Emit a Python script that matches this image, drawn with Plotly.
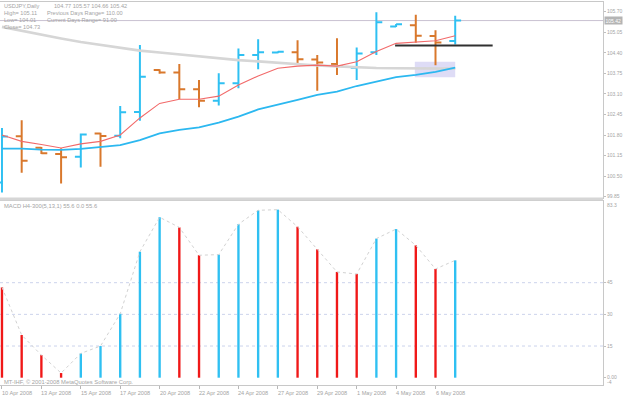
import plotly.graph_objects as go

# ---------------- data ----------------
dates = ["10 Apr 2008", "11 Apr 2008", "13 Apr 2008", "14 Apr 2008", "15 Apr 2008",
         "16 Apr 2008", "17 Apr 2008", "18 Apr 2008", "20 Apr 2008", "21 Apr 2008",
         "22 Apr 2008", "23 Apr 2008", "24 Apr 2008", "25 Apr 2008", "27 Apr 2008",
         "28 Apr 2008", "29 Apr 2008", "30 Apr 2008", "1 May 2008", "2 May 2008",
         "4 May 2008", "5 May 2008", "6 May 2008", "7 May 2008"]

opens = [100.30, 101.76, 101.40, 101.20, 101.11, 101.85, 101.78, 102.53, 103.86, 103.78,
         103.25, 102.88, 103.44, 104.33, 104.41, 104.42, 104.19, 104.05, 103.93, 104.42,
         105.23, 105.27, 104.93, 104.77]
highs = [102.02, 102.27, 101.42, 101.38, 101.85, 101.87, 102.72, 104.65, 103.88, 104.05,
         103.54, 103.75, 104.54, 104.83, 104.45, 104.80, 104.33, 104.86, 104.57, 105.68,
         105.31, 105.60, 105.11, 105.57]
lows = [99.98, 100.61, 101.20, 100.27, 100.77, 100.80, 101.70, 102.25, 103.74, 102.93,
        102.68, 102.73, 103.28, 103.88, 104.39, 104.05, 103.20, 103.70, 103.54, 104.33,
        105.22, 104.72, 104.01, 104.66]
closes = [101.75, 100.99, 101.22, 101.10, 101.82, 101.77, 102.52, 103.64, 103.78, 103.25,
          102.88, 103.44, 104.33, 104.42, 104.43, 104.20, 104.09, 103.98, 104.38, 105.37,
          105.30, 104.94, 104.73, 105.42]

ma_slow = [105.22, 105.09, 104.96, 104.85, 104.74, 104.65, 104.55, 104.47, 104.41, 104.35,
           104.28, 104.22, 104.17, 104.13, 104.08, 104.03, 104.00, 103.97, 103.94, 103.92,
           103.91, 103.90, 103.90, 103.90]
ma_mid = [101.37, 101.37, 101.34, 101.33, 101.36, 101.42, 101.48, 101.64, 101.85, 101.96,
          102.04, 102.19, 102.38, 102.61, 102.75, 102.91, 103.07, 103.17, 103.35, 103.49,
          103.63, 103.70, 103.80, 103.93]
ma_fast = [101.80, 101.60, 101.50, 101.39, 101.52, 101.60, 101.80, 102.34, 102.80, 102.93,
           102.93, 103.03, 103.38, 103.67, 103.91, 103.98, 104.01, 103.98, 104.12, 104.44,
           104.70, 104.74, 104.78, 104.94]

macd = [42.8, 20.2, 10.7, 2.2, 11.5, 15.0, 30.3, 59.7, 76.0, 71.2,
        58.0, 58.3, 72.7, 79.3, 79.6, 71.5, 60.8, 50.1, 49.1, 65.9,
        70.4, 62.7, 51.5, 55.6]
signal = macd[:]  # signal period 1

macd_levels = [15, 30, 45]
price_ticks = [99.85, 100.50, 101.15, 101.80, 102.45, 103.10, 103.75, 104.40, 105.05, 105.70]
macd_ticks = [0, 15, 30, 45]
macd_tick_text = ["0.00", "15", "30", "45"]

support_level = 104.63
support_from = "4 May 2008"
zone_low, zone_high = 103.63, 104.12
zone_from, zone_to = "5 May 2008", "7 May 2008"

header_left = ["USDJPY,Daily", "High= 105.11", "Low= 104.01", "Close= 104.73"]
header_right = ["104.77 105.57 104.66 105.42", "Previous Days Range= 110.00",
                "Current Days Range= 91.00", ""]
macd_title = "MACD H4-300(5,13,1) 55.6 0.0 55.6"
copyright_txt = "MT-IHF, © 2001-2008 MetaQuotes Software Corp."

# ---------------- layout helpers ----------------
W, H = 625, 397
def px_y(p):
    return 1 - p / H
def px_x(p):
    return p / W

GRAY_TXT = "#a4a4a4"
BORDER = "#c8c8c8"
BLUE = "#2fc0f2"
ORANGE = "#d9782c"
RED = "#f01818"

fig = go.Figure()

# moving averages
fig.add_trace(go.Scatter(x=dates, y=ma_slow, mode="lines", line=dict(color="#d6d6d6", width=2.6),
                         xaxis="x", yaxis="y", hoverinfo="skip"))
fig.add_trace(go.Scatter(x=dates, y=ma_mid, mode="lines", line=dict(color="#2cb8f0", width=1.8),
                         xaxis="x", yaxis="y", hoverinfo="skip"))
fig.add_trace(go.Scatter(x=dates, y=ma_fast, mode="lines", line=dict(color="#f26a6a", width=1.1),
                         xaxis="x", yaxis="y", hoverinfo="skip"))

# price bars
fig.add_trace(go.Ohlc(x=dates, open=opens, high=highs, low=lows, close=closes,
                      increasing=dict(line=dict(color=BLUE, width=2)),
                      decreasing=dict(line=dict(color=ORANGE, width=2)),
                      tickwidth=0.3, xaxis="x", yaxis="y"))

# MACD histogram
bar_colors = [RED] + [BLUE if macd[i] > macd[i - 1] else RED for i in range(1, len(macd))]
fig.add_trace(go.Bar(x=dates, y=macd, width=0.12, marker=dict(color=bar_colors, line=dict(width=0)),
                     xaxis="x2", yaxis="y2"))
fig.add_trace(go.Scatter(x=dates, y=signal, mode="lines",
                         line=dict(color="#d2d2d2", width=1, dash="dot"),
                         xaxis="x2", yaxis="y2", hoverinfo="skip"))

shapes = []
# zone rectangle
shapes.append(dict(type="rect", xref="x", yref="y",
                   x0=dates.index(zone_from) - 0.05, x1=dates.index(zone_to),
                   y0=zone_low, y1=zone_high, fillcolor="#dedcf6", line=dict(width=0),
                   layer="below"))
# current price line
shapes.append(dict(type="line", xref="x domain", yref="y", x0=0, x1=1,
                   y0=closes[-1], y1=closes[-1], line=dict(color="#c9c2d2", width=1),
                   layer="below"))
# support line
shapes.append(dict(type="line", xref="x", yref="y",
                   x0=dates.index(support_from) - 0.05, x1=len(dates) - 1 + 1.9,
                   y0=support_level, y1=support_level, line=dict(color="#303030", width=2)))
# MACD levels
for lv in macd_levels:
    shapes.append(dict(type="line", xref="x2 domain", yref="y2", x0=0, x1=1, y0=lv, y1=lv,
                       line=dict(color="#ccd3ec", width=1, dash="dot"), layer="below"))
# separator band
shapes.append(dict(type="rect", xref="paper", yref="paper", x0=0, x1=px_x(603),
                   y0=px_y(200.5), y1=px_y(197.5), fillcolor="#d6d6d6", line=dict(width=0)))

annotations = []
head_y = [6, 12.8, 19.6, 26.6]
for i, t in enumerate(header_left):
    annotations.append(dict(text=t, xref="paper", yref="paper", x=px_x(2), y=px_y(head_y[i]),
                            xanchor="left", yanchor="middle", showarrow=False,
                            font=dict(size=5.6, color=GRAY_TXT, family="Liberation Sans")))
for i, t in enumerate(header_right):
    if not t:
        continue
    xx = 52 if i == 0 else 45
    annotations.append(dict(text=t, xref="paper", yref="paper", x=px_x(xx), y=px_y(head_y[i]),
                            xanchor="left", yanchor="middle", showarrow=False,
                            font=dict(size=5.6, color=GRAY_TXT, family="Liberation Sans")))
annotations.append(dict(text=macd_title, xref="paper", yref="paper", x=px_x(2), y=px_y(205.5),
                        xanchor="left", yanchor="middle", showarrow=False,
                        font=dict(size=5.8, color=GRAY_TXT, family="Liberation Sans")))
annotations.append(dict(text=copyright_txt, xref="paper", yref="paper", x=px_x(2), y=px_y(381.5),
                        xanchor="left", yanchor="middle", showarrow=False,
                        font=dict(size=5.8, color=GRAY_TXT, family="Liberation Sans")))
# x labels (left aligned at the tick)
for d in dates[::2]:
    annotations.append(dict(text=d, xref="x2", yref="paper", x=d, y=px_y(392.5),
                            xanchor="left", yanchor="middle", showarrow=False, xshift=-2,
                            font=dict(size=5.6, color=GRAY_TXT, family="Liberation Sans")))
# current price badge
annotations.append(dict(text="%.2f" % closes[-1], xref="paper", yref="y", x=px_x(604), y=closes[-1],
                        xanchor="left", yanchor="middle", showarrow=False, bgcolor="#b4b4b4",
                        borderpad=0.5, font=dict(size=5, color="white", family="Liberation Sans")))
# MACD extra labels
annotations.append(dict(text="83.3", xref="paper", yref="paper", x=px_x(605), y=px_y(205),
                        xanchor="left", yanchor="middle", showarrow=False,
                        font=dict(size=5, color=GRAY_TXT, family="Liberation Sans")))
annotations.append(dict(text="-4", xref="paper", yref="paper", x=px_x(605), y=px_y(382.3),
                        xanchor="left", yanchor="middle", showarrow=False,
                        font=dict(size=5, color=GRAY_TXT, family="Liberation Sans")))

x_range = [-0.1, 30.5]
fig.update_layout(
    width=W, height=H, margin=dict(l=0, r=0, t=0, b=0),
    paper_bgcolor="white", plot_bgcolor="white", showlegend=False,
    xaxis=dict(domain=[0, px_x(603)], type="category", range=x_range, anchor="y",
               showticklabels=False, ticks="", showgrid=False, zeroline=False,
               showline=True, mirror=True, linecolor=BORDER, linewidth=1,
               rangeslider=dict(visible=False), matches="x2"),
    xaxis2=dict(domain=[0, px_x(603)], type="category", range=x_range, anchor="y2",
                tickvals=dates[::2], showticklabels=False, ticks="outside", ticklen=3,
                tickcolor="#b8b8b8", showgrid=False, zeroline=False,
                showline=True, mirror=True, linecolor=BORDER, linewidth=1,
                rangeslider=dict(visible=False)),
    yaxis=dict(domain=[px_y(198), px_y(1.5)], range=[99.808, 106.023], side="right", anchor="x",
               tickvals=price_ticks, ticktext=["%.2f" % v for v in price_ticks],
               tickfont=dict(size=5, color=GRAY_TXT, family="Liberation Sans"),
               ticks="outside", ticklen=2, tickcolor="#c0c0c0",
               showgrid=False, zeroline=False, showline=True, mirror=True,
               linecolor=BORDER, linewidth=1),
    yaxis2=dict(domain=[px_y(385), px_y(201)], range=[-3.46, 83.7], side="right", anchor="x2",
                tickvals=macd_ticks, ticktext=macd_tick_text,
                tickfont=dict(size=5, color=GRAY_TXT, family="Liberation Sans"),
                ticks="outside", ticklen=2, tickcolor="#c0c0c0",
                showgrid=False, zeroline=False, showline=True, mirror=True,
                linecolor=BORDER, linewidth=1),
    shapes=shapes, annotations=annotations,
)

fig.write_html("out.html")
